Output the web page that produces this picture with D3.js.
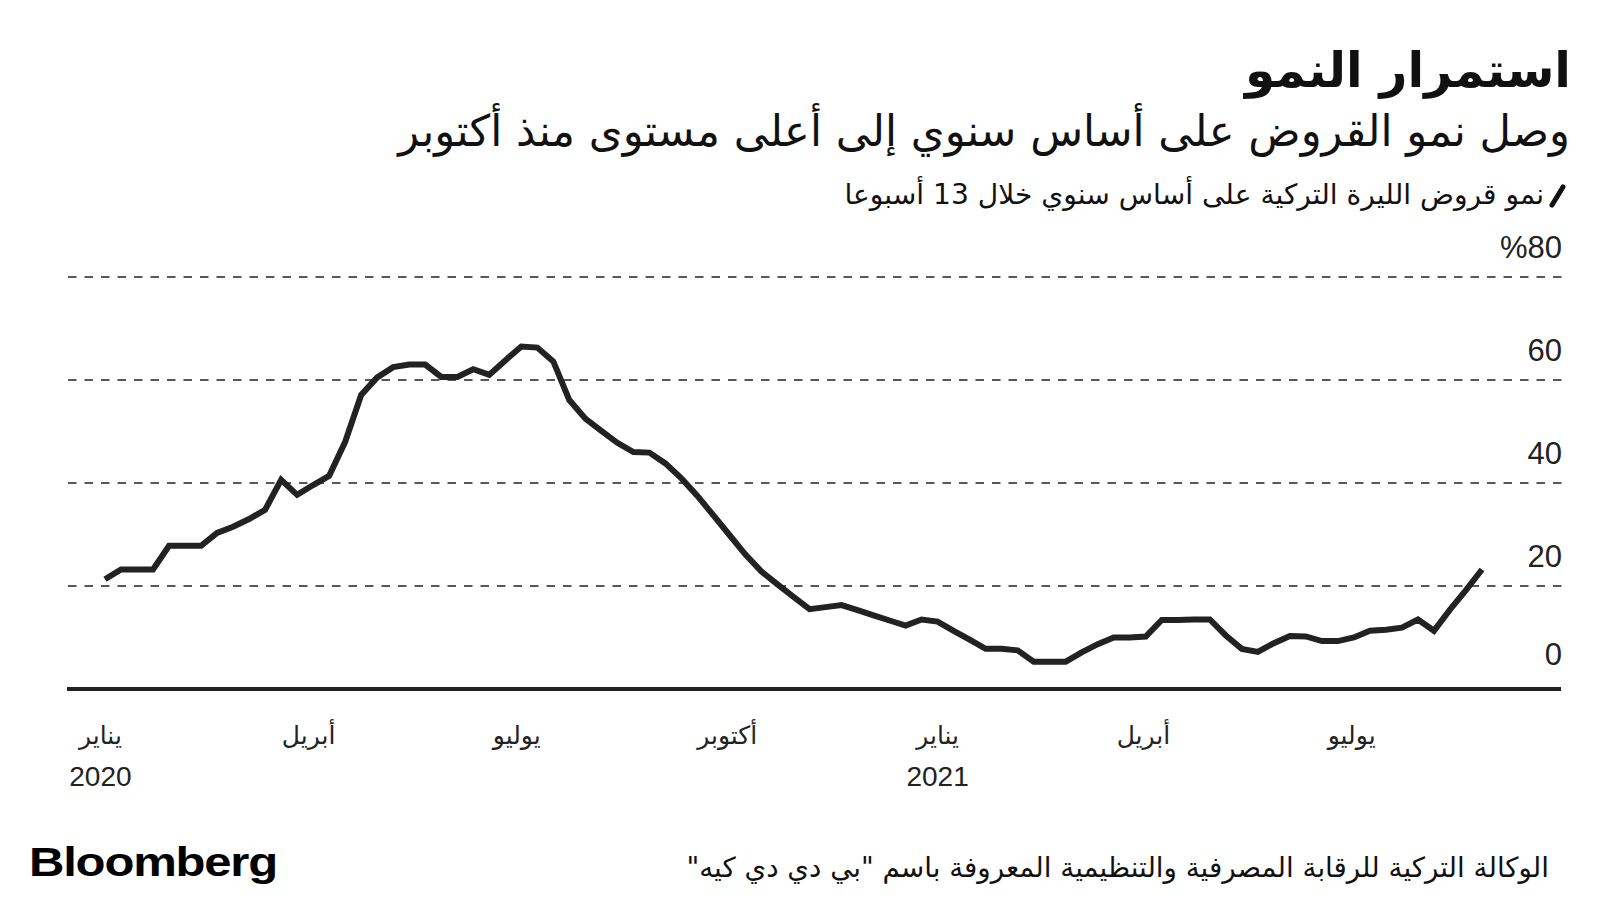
<!DOCTYPE html>
<html><head><meta charset="utf-8">
<script src="https://cdn.jsdelivr.net/npm/d3@7"></script>
<style>body{margin:0;background:#fff}svg{display:block}</style>
</head><body><svg id="c" width="1600" height="900"></svg>
<script>
// ---- data ----
const title = "استمرار النمو";
const subtitle = "وصل نمو القروض على أساس سنوي إلى أعلى مستوى منذ أكتوبر";
const legendLabel = "نمو قروض الليرة التركية على أساس سنوي خلال 13 أسبوعا";
const source = "الوكالة التركية للرقابة المصرفية والتنظيمية المعروفة باسم \"بي دي دي كيه\"";
const brand = "Bloomberg";

const firstWeek = "2020-01-03"; // weekly observations (Fridays)
const growthValues = [
  21.3, 23.2, 23.2, 23.2, 27.8, 27.8, 27.8, 30.3, 31.5, 33.0,
  34.8, 40.6, 37.7, 39.6, 41.4, 48.0, 57.1, 60.5, 62.5, 63.0,
  63.0, 60.6, 60.6, 62.1, 61.0, 63.8, 66.5, 66.3, 63.6, 56.1,
  52.5, 50.1, 47.8, 46.0, 45.9, 43.8, 40.9, 37.5, 33.7, 29.9,
  26.1, 22.8, 20.3, 17.9, 15.5, 15.9, 16.3, 15.3, 14.3, 13.3,
  12.3, 13.5, 13.1, 11.3, 9.6, 7.8, 7.8, 7.5, 5.3, 5.3,
  5.3, 7.1, 8.7, 10.0, 10.0, 10.2, 13.4, 13.4, 13.5, 13.5,
  10.4, 7.8, 7.2, 8.9, 10.3, 10.2, 9.3, 9.3, 10.0, 11.3,
  11.5, 11.9, 13.5, 11.3, 15.4, 19.2, 23.2
];

const yTicks = [0, 20, 40, 60, 80];
const yTickLabels = ["0", "20", "40", "60", "%80"];
const xTickDates = ["2020-01-01","2020-04-01","2020-07-01","2020-10-01","2021-01-01","2021-04-01","2021-07-01"];
const xTickMonths = ["يناير","أبريل","يوليو","أكتوبر","يناير","أبريل","يوليو"];
const xTickYears = ["2020","","","","2021","",""];

// ---- build ----
const parse = d3.utcParse("%Y-%m-%d");
const t0 = parse(firstWeek);
const series = growthValues.map((v, i) => ({date: d3.utcDay.offset(t0, 7 * i), value: v}));

const svg = d3.select("#c");
const AR = "'DejaVu Sans', sans-serif";
const LAT = "'Liberation Sans', Arial, sans-serif";
const ink = "#222";

const x = d3.scaleUtc()
  .domain([series[0].date, series[series.length - 1].date])
  .range([105, 1482]);
const y = d3.scaleLinear().domain([0, 80]).range([689, 277]);

function fit(sel, target) {
  const w = sel.node().getComputedTextLength();
  const fs = parseFloat(sel.attr("font-size"));
  sel.attr("font-size", fs * target / w);
  return sel;
}
function rtlText(str, xr, yb, size, weight, family) {
  return svg.append("text")
    .attr("x", xr).attr("y", yb)
    .attr("direction", "rtl").style("direction", "rtl")
    .attr("text-anchor", "start")
    .attr("font-family", family || AR)
    .attr("font-size", size).attr("font-weight", weight || "normal")
    .attr("fill", "#111").text(str);
}

// titles
fit(rtlText(title, 1571, 87, 50, "bold"), 326);
fit(rtlText(subtitle, 1570, 146, 36), 1172);
fit(rtlText(legendLabel, 1544, 204, 24), 700);
svg.append("line")
  .attr("x1", 1552).attr("y1", 205).attr("x2", 1563).attr("y2", 187)
  .attr("stroke", "#111").attr("stroke-width", 5).attr("stroke-linecap", "round");

// gridlines
svg.append("g").selectAll("line")
  .data(yTicks.filter(d => d > 0))
  .join("line")
  .attr("x1", 68).attr("x2", 1562)
  .attr("y1", d => y(d)).attr("y2", d => y(d))
  .attr("stroke", "#222").attr("stroke-width", 1.5)
  .attr("stroke-dasharray", "8.5,8");

// y labels
svg.append("g").selectAll("text")
  .data(yTicks)
  .join("text")
  .attr("x", 1562)
  .attr("y", d => y(d) - (d === 0 ? 24 : 19))
  .attr("text-anchor", "end")
  .attr("font-family", LAT).attr("font-size", 31)
  .attr("fill", "#222")
  .text((d, i) => yTickLabels[i]);

// baseline
svg.append("line")
  .attr("x1", 67).attr("x2", 1561)
  .attr("y1", y(0)).attr("y2", y(0))
  .attr("stroke", ink).attr("stroke-width", 4);

// x labels
const xt = svg.append("g");
xTickDates.forEach((ds, i) => {
  const xp = x(parse(ds));
  xt.append("text").attr("x", xp).attr("y", 744)
    .attr("text-anchor", "middle").attr("font-family", AR).attr("font-size", 25)
    .attr("fill", "#222").text(xTickMonths[i]);
  if (xTickYears[i]) {
    xt.append("text").attr("x", xp).attr("y", 786)
      .attr("text-anchor", "middle").attr("font-family", LAT).attr("font-size", 28)
      .attr("fill", "#222").text(xTickYears[i]);
  }
});

// line
svg.append("path")
  .datum(series)
  .attr("fill", "none")
  .attr("stroke", ink)
  .attr("stroke-width", 6)
  .attr("stroke-linejoin", "miter")
  .attr("stroke-linecap", "butt")
  .attr("d", d3.line().x(d => x(d.date)).y(d => y(d.value)));

// footer
fit(rtlText(source, 1549, 877, 24), 863);
svg.append("text")
  .attr("x", 29).attr("y", 876)
  .attr("font-family", LAT).attr("font-weight", "bold").attr("font-size", 40)
  .attr("textLength", 248).attr("lengthAdjust", "spacingAndGlyphs")
  .attr("fill", "#000").style("letter-spacing", "-1px").text(brand);
</script></body></html>
